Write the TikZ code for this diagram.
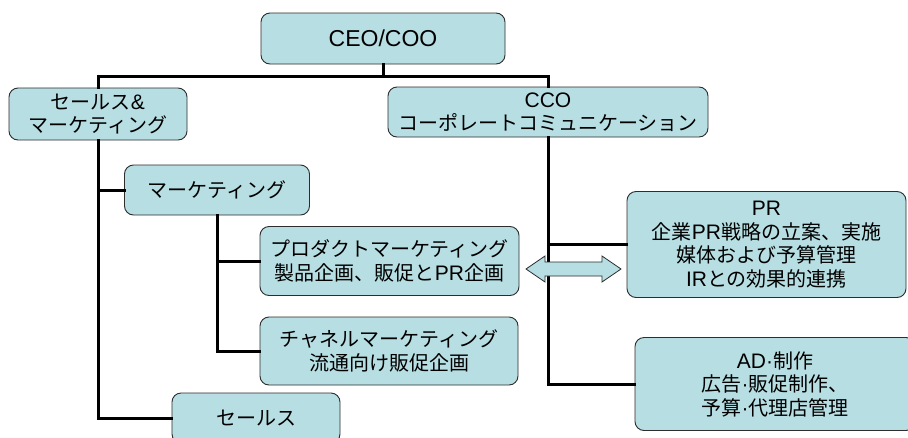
\documentclass[tikz,border=0pt]{standalone}
\usepackage{fontspec}
\setmainfont{Liberation Sans}
\newfontfamily\jpfont{Noto Sans CJK JP}
\newcommand\J[1]{{\fontsize{20}{23.5}\jpfont #1}}
\definecolor{boxblue}{RGB}{183,222,226}
\definecolor{boxline}{RGB}{45,45,45}
\tikzset{
  orgbox/.style={draw=boxline, fill=boxblue, line width=0.9pt, rounded corners=9pt,
    align=center, inner sep=0pt, font=\fontsize{21}{23.5}\selectfont},
  conn/.style={line width=3pt, black, line cap=rect},
  dblarrow/.style={draw=boxline, fill=boxblue, line width=0.8pt, line join=miter}
}
\begin{document}
\begin{tikzpicture}[x=1pt,y=-1pt]
\clip (0,0) rectangle (908,437);
\useasboundingbox (0,0) rectangle (908,437);
\fill[white] (0,0) rectangle (908,437);

% boxes
\node[orgbox, minimum width=244pt, minimum height=51pt, font=\fontsize{23}{25}\selectfont] (ceo) at (383,38.5) {CEO/COO};
\node[orgbox, minimum width=178pt, minimum height=52pt] (sm) at (98,114) {\J{セールス}\&\\\J{マーケティング}};
\node[orgbox, minimum width=320pt, minimum height=50pt] (cco) at (548,112) {CCO\\\J{コーポレートコミュニケーション}};
\node[orgbox, minimum width=185pt, minimum height=50pt] (mk) at (217,190) {\J{マーケティング}};
\node[orgbox, minimum width=259pt, minimum height=69pt] (pm) at (389.5,261) {\J{プロダクトマーケティング}\\\J{製品企画、販促と}PR\J{企画}};
\node[orgbox, minimum width=258pt, minimum height=68pt] (ch) at (389,351) {\J{チャネルマーケティング}\\\J{流通向け販促企画}};
\node[orgbox, minimum width=168pt, minimum height=50pt] (sales) at (256,418) {\J{セールス}};
\node[orgbox, minimum width=279pt, minimum height=106pt] (pr) at (766.5,244.5) {PR\\\J{企業}PR\J{戦略の立案、実施}\\\J{媒体および予算管理}\\IR\J{との効果的連携}};
\node[orgbox, minimum width=280pt, minimum height=93pt] (ad) at (775,384) {AD·\J{制作}\\\J{広告}·\J{販促制作、}\\\J{予算}·\J{代理店管理}};

% connectors
\coordinate (top) at (383,76);
\draw[conn] (ceo.south) -- (top);
\draw[conn] (sm.north) -- (sm.north |- top) -- (cco.north |- top) -- (cco.north);
\draw[conn] (sm.south) |- (sales.west);
\draw[conn] (mk.west) -- (mk.west -| sm.south);
\draw[conn] (mk.south) |- (ch.west);
\draw[conn] (pm.west) -- (pm.west -| mk.south);
\draw[conn] (cco.south) |- (ad.west);
\draw[conn] (pr.west) -- (pr.west -| cco.south);

% double arrow between product marketing and PR
\draw[dblarrow] (526,269) -- (545,256) -- (545,262) -- (602,262) -- (602,256) -- (621,269)
  -- (602,282) -- (602,276) -- (545,276) -- (545,282) -- cycle;
\end{tikzpicture}
\end{document}
